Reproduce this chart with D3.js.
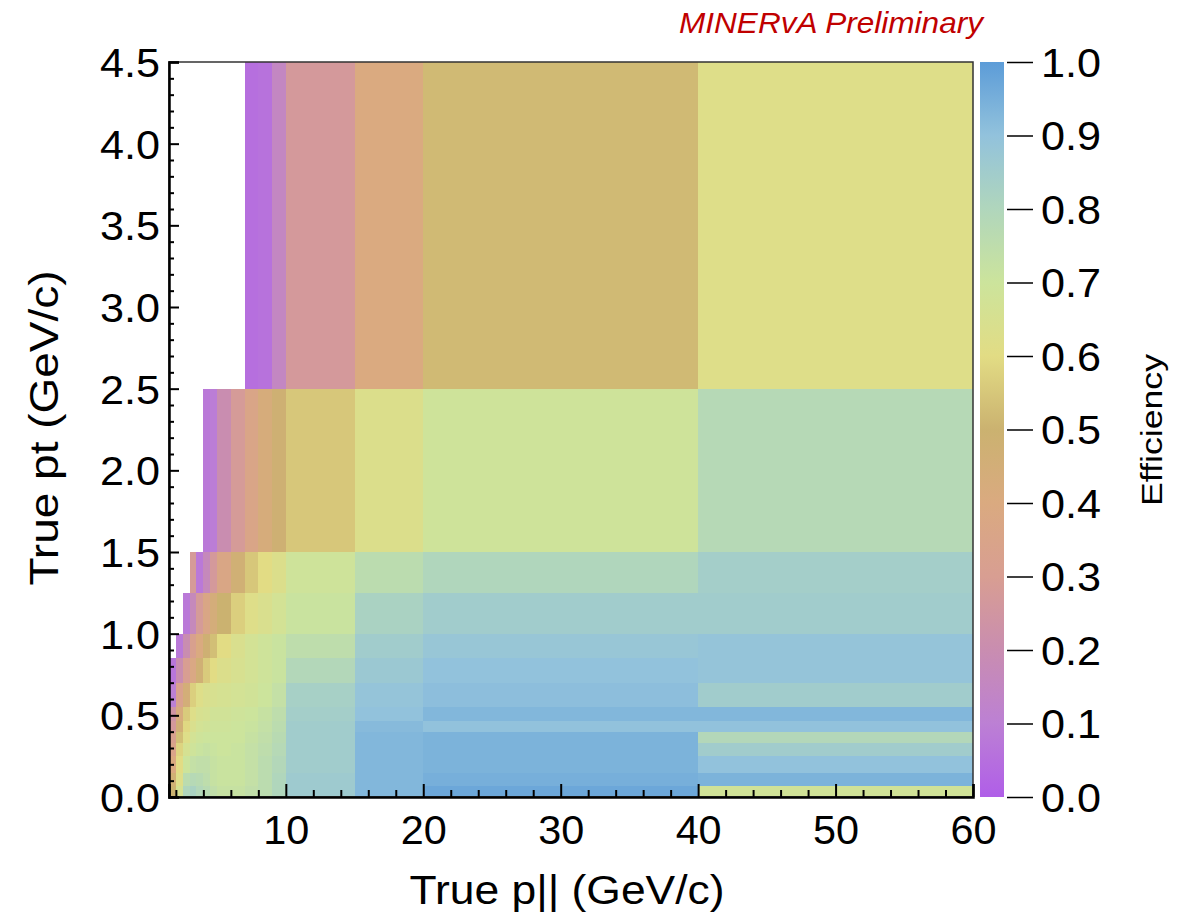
<!DOCTYPE html>
<html><head><meta charset="utf-8">
<script src="https://cdn.jsdelivr.net/npm/d3@7"></script>
<style>body{margin:0;background:#fff;} text{font-family:"Liberation Sans",Arial,sans-serif;}</style>
</head><body>
<svg id="chart" width="1193" height="919"></svg>
<script>
// Bin edges (GeV/c)
const xEdges = [1.5,2,2.5,3,3.5,4,4.5,5,6,7,8,9,10,15,20,40,60];
const yEdges = [0,0.07,0.15,0.25,0.33,0.4,0.47,0.55,0.7,0.85,1.0,1.25,1.5,2.5,4.5];
// efficiency rows, bottom (pt 0-0.07) to top (pt 2.5-4.5); null = empty bin
const row0  = [0.50,0.66,0.80,0.82,0.79,0.77,0.74,0.72,0.72,0.74,0.76,0.80,0.86,0.93,0.97,0.68];
const row1  = [0.47,0.62,0.76,0.78,0.77,0.75,0.72,0.71,0.71,0.73,0.76,0.80,0.86,0.93,0.95,0.94];
const row2  = [0.40,0.60,0.70,0.73,0.74,0.74,0.72,0.71,0.71,0.73,0.76,0.79,0.85,0.93,0.94,0.90];
const row3  = [0.35,0.58,0.66,0.69,0.71,0.72,0.71,0.70,0.71,0.73,0.75,0.78,0.85,0.93,0.94,0.85];
const row4  = [0.32,0.53,0.62,0.67,0.69,0.70,0.70,0.70,0.70,0.72,0.74,0.77,0.85,0.93,0.94,0.79];
const row5  = [0.27,0.46,0.59,0.64,0.67,0.68,0.69,0.69,0.70,0.71,0.73,0.76,0.85,0.92,0.90,0.90];
const row6  = [0.24,0.42,0.56,0.62,0.65,0.66,0.68,0.68,0.69,0.70,0.72,0.75,0.84,0.90,0.93,0.93];
const row7  = [0.10,0.33,0.45,0.57,0.62,0.64,0.65,0.66,0.67,0.68,0.70,0.73,0.83,0.89,0.91,0.85];
const row8  = [0.07,0.20,0.30,0.38,0.47,0.56,0.60,0.63,0.65,0.67,0.69,0.71,0.79,0.87,0.90,0.89];
const row9  = [null,0.08,0.20,0.32,0.40,0.48,0.53,0.60,0.64,0.67,0.69,0.71,0.75,0.85,0.88,0.89];
const row10 = [null,null,0.08,0.17,0.28,0.37,0.44,0.50,0.57,0.62,0.64,0.67,0.71,0.82,0.85,0.85];
const row11 = [null,null,null,0.28,0.08,0.17,0.27,0.37,0.47,0.55,0.60,0.63,0.69,0.76,0.80,0.84];
const row12 = [null,null,null,null,null,0.08,0.09,0.20,0.28,0.36,0.43,0.48,0.55,0.63,0.69,0.78];
const row13 = [null,null,null,null,null,null,null,null,null,0.05,0.06,0.15,0.27,0.40,0.52,0.62];
const rows = [row0,row1,row2,row3,row4,row5,row6,row7,row8,row9,row10,row11,row12,row13];

const xTicksMajor = [10,20,30,40,50,60];
const yTicksMajor = [0,0.5,1,1.5,2,2.5,3,3.5,4,4.5];
const zTicks = [0,0.1,0.2,0.3,0.4,0.5,0.6,0.7,0.8,0.9,1.0];
const paletteStops = [0,0.1,0.2,0.3,0.4,0.5,0.6,0.7,0.8,0.9,1.0];
const paletteColors = ["#b05ee8","#bc80d4","#c98db0","#d89e92","#daaa80","#cbb270","#e2dc84","#cce49c","#b0d6bc","#92c2dc","#5c9cd8"];

const svg = d3.select("#chart");
const L=169, R=973, T=62, B=797;
const x = d3.scaleLinear().domain([1.5,60]).range([L,R]);
const y = d3.scaleLinear().domain([0,4.5]).range([B,T]);
const color = d3.scaleLinear().domain(paletteStops).range(paletteColors).interpolate(d3.interpolateRgb).clamp(true);

// cells
const cells = [];
rows.forEach((r,ri)=>r.forEach((v,ci)=>{ if(v!==null) cells.push({x0:xEdges[ci],x1:xEdges[ci+1],y0:yEdges[ri],y1:yEdges[ri+1],v}); }));
svg.append("g").selectAll("rect").data(cells).join("rect")
  .attr("x",d=>x(d.x0)).attr("y",d=>y(d.y1))
  .attr("width",d=>x(d.x1)-x(d.x0)+0.3).attr("height",d=>y(d.y0)-y(d.y1)+0.3)
  .attr("fill",d=>color(d.v)).attr("shape-rendering","crispEdges");

// frame
svg.append("rect").attr("x",L).attr("y",T).attr("width",R-L).attr("height",B-T)
  .attr("fill","none").attr("stroke","#333").attr("stroke-width",1.5);

// x axis
const xMinor = d3.range(2,60.1,2).filter(v=>v%10!==0);
const gx = svg.append("g").attr("transform",`translate(0,${B})`);
gx.append("g").call(d3.axisBottom(x).tickValues(xMinor).tickSize(-7).tickFormat("")).call(g=>g.select(".domain").remove());
gx.append("g").call(d3.axisBottom(x).tickValues(xTicksMajor).tickSize(-13).tickPadding(19).tickFormat(d3.format("d")))
  .call(g=>g.select(".domain").attr("stroke-width",2.5))
  .call(g=>g.selectAll("text").attr("font-size",40).attr("fill","#000").attr("dy","0.71em")
     .attr("textLength",46).attr("lengthAdjust","spacingAndGlyphs"));
gx.selectAll("line").attr("stroke","#000").attr("stroke-width",2);

// y axis
const yMinor = d3.range(0,4.501,0.1).map(v=>+v.toFixed(2)).filter(v=>Math.abs(v*2-Math.round(v*2))>1e-6);
const gy = svg.append("g").attr("transform",`translate(${L},0)`);
gy.append("g").call(d3.axisLeft(y).tickValues(yMinor).tickSize(-5).tickFormat("")).call(g=>g.select(".domain").remove());
gy.append("g").call(d3.axisLeft(y).tickValues(yTicksMajor).tickSize(-10).tickPadding(9).tickFormat(d3.format(".1f")))
  .call(g=>g.select(".domain").attr("stroke-width",2.5))
  .call(g=>g.selectAll("text").attr("font-size",40).attr("fill","#000").attr("dy","0.36em")
     .attr("textLength",60).attr("lengthAdjust","spacingAndGlyphs"));
gy.selectAll("line").attr("stroke","#000").attr("stroke-width",2);

// colorbar
const cbX=980, cbW=24;
const cz = d3.scaleLinear().domain([0,1]).range([B,T]);
const defs = svg.append("defs");
const grad = defs.append("linearGradient").attr("id","pal").attr("x1","0").attr("y1","1").attr("x2","0").attr("y2","0");
grad.selectAll("stop").data(paletteStops).join("stop").attr("offset",d=>d).attr("stop-color",(d,i)=>paletteColors[i]);
svg.append("rect").attr("x",cbX).attr("y",T).attr("width",cbW).attr("height",B-T).attr("fill","url(#pal)");
const gz = svg.append("g").attr("transform",`translate(${cbX+cbW+3},0)`);
gz.call(d3.axisRight(cz).tickValues(zTicks).tickSize(26).tickPadding(8).tickFormat(d3.format(".1f")))
  .call(g=>g.select(".domain").remove())
  .call(g=>g.selectAll("line").attr("stroke","#000").attr("stroke-width",1.5))
  .call(g=>g.selectAll("text").attr("font-size",40).attr("fill","#000").attr("dy","0.36em")
     .attr("textLength",60).attr("lengthAdjust","spacingAndGlyphs"));

// titles
svg.append("text").attr("x",567).attr("y",904).attr("text-anchor","middle").attr("font-size",40)
  .attr("textLength",315).attr("lengthAdjust","spacingAndGlyphs").text("True p|| (GeV/c)");
svg.append("text").attr("transform","translate(58,428) rotate(-90)").attr("text-anchor","middle").attr("font-size",40)
  .attr("textLength",315).attr("lengthAdjust","spacingAndGlyphs").text("True pt (GeV/c)");
svg.append("text").attr("transform","translate(1162,430) rotate(-90)").attr("text-anchor","middle").attr("font-size",30)
  .attr("textLength",152).attr("lengthAdjust","spacingAndGlyphs").text("Efficiency");
svg.append("text").attr("x",983).attr("y",33).attr("text-anchor","end").attr("font-size",30).attr("font-style","italic").attr("fill","#c00000")
  .attr("textLength",304).attr("lengthAdjust","spacingAndGlyphs").text("MINERvA Preliminary");
</script>
</body></html>
